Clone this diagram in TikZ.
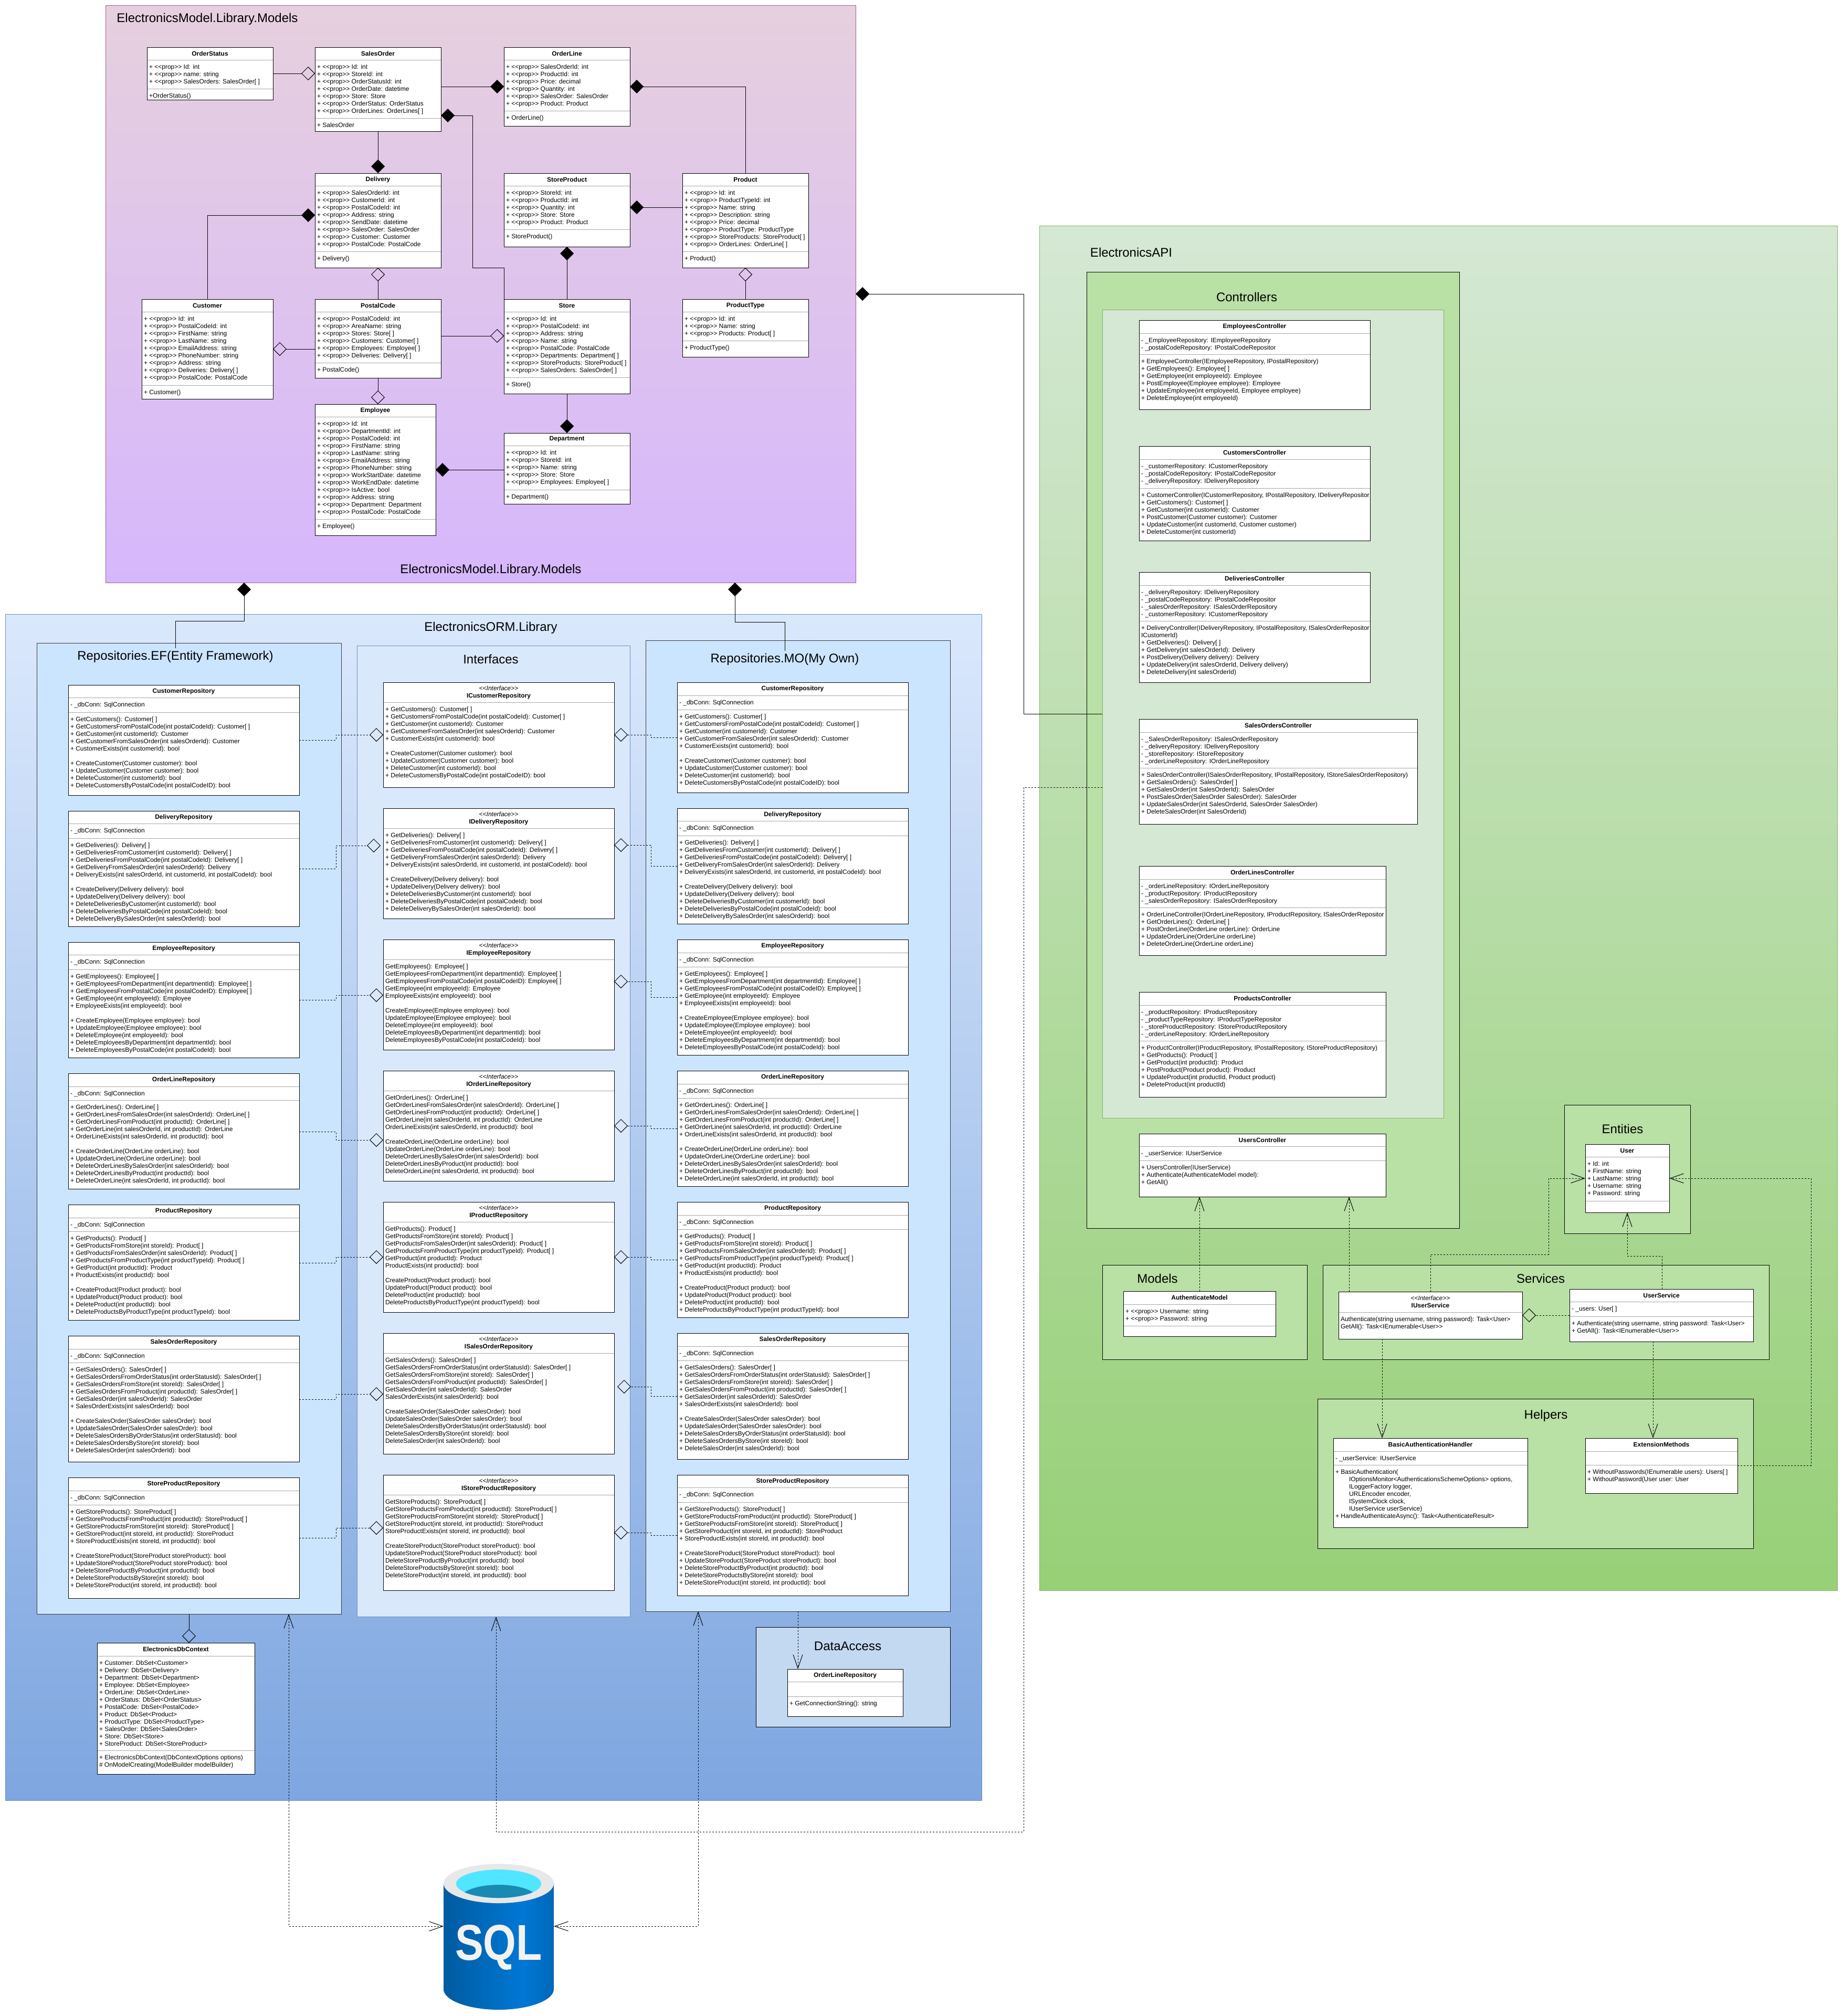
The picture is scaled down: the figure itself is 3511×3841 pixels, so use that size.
\documentclass[tikz,border=0pt]{standalone}
\usepackage{fontspec}
\usepackage{graphicx}
\usetikzlibrary{arrows.meta,calc}
\newfontfamily\umlfont{Liberation Sans}
\definecolor{modTop}{HTML}{E6D0DE}\definecolor{modBot}{HTML}{D6B7FC}\definecolor{modLine}{HTML}{996185}
\definecolor{ormTop}{HTML}{DAE8FC}\definecolor{ormBot}{HTML}{7EA6E0}\definecolor{ormLine}{HTML}{6C8EBF}
\definecolor{apiTop}{HTML}{D5E8D4}\definecolor{apiBot}{HTML}{97D077}\definecolor{apiLine}{HTML}{82B366}
\definecolor{repoFill}{HTML}{CCE5FF}\definecolor{repoLine}{HTML}{36393D}
\definecolor{daFill}{HTML}{C3D9F1}\definecolor{grpFill}{HTML}{B9E0A5}
\definecolor{sepGray}{HTML}{A6A6A6}
\definecolor{sqlA}{HTML}{005BA1}\definecolor{sqlB}{HTML}{0078D4}\definecolor{sqlC}{HTML}{0068BA}
\definecolor{sqlRing}{HTML}{E8E8E8}\definecolor{sqlIn}{HTML}{50E6FF}\definecolor{sqlDark}{HTML}{198AB3}\definecolor{sqlTxt}{HTML}{F2F2F2}
\pgfdeclarehorizontalshading{sqlbody}{100bp}{color(0bp)=(sqlA); color(25bp)=(sqlA); color(61bp)=(sqlB); color(75bp)=(sqlC); color(100bp)=(sqlC)}
\tikzset{
  every node/.style={font=\umlfont\fontsize{12}{14}\selectfont,inner sep=0pt,outer sep=0pt},
  clsbox/.style={draw=black,fill=white,line width=1pt,rectangle},
  sepline/.style={draw=sepGray,line width=1pt},
  clstitle/.style={font=\umlfont\bfseries\fontsize{12}{14}\selectfont,align=center},
  clstext/.style={align=left,anchor=north west},
  cont/.style={rectangle,anchor=north west,line width=1pt},
  gmod/.style={cont,draw=modLine,top color=modTop,bottom color=modBot},
  gorm/.style={cont,draw=ormLine,top color=ormTop,bottom color=ormBot},
  gapi/.style={cont,draw=apiLine,top color=apiTop,bottom color=apiBot},
  grepo/.style={cont,draw=repoLine,fill=repoFill},
  gint/.style={cont,draw=ormLine,fill=ormTop},
  gda/.style={cont,draw=black,fill=daFill},
  ggrp/.style={cont,draw=black,fill=grpFill},
  gin/.style={cont,draw=apiLine,fill=apiTop},
  conttitle/.style={font=\umlfont\fontsize{24}{28}\selectfont},
  conn/.style={draw=black,line width=1pt},
  comp/.style={conn,-{Turned Square[length=26pt,width=26pt]}},
  aggr/.style={conn,-{Turned Square[open,length=26pt,width=26pt]}},
  dashln/.style={conn,dash pattern=on 3pt off 3pt},
  daggr/.style={dashln,-{Turned Square[open,length=26pt,width=26pt]}},
  dep/.style={dashln,-{Straight Barb[length=26pt,width=18pt]}},
  depboth/.style={dashln,{Straight Barb[length=26pt,width=18pt]}-{Straight Barb[length=26pt,width=18pt]}},
}
\newcommand{\cont}[6]{% style,name,x1,y1,x2,y2
  \pgfmathsetmacro\kW{#5-#3}\pgfmathsetmacro\kH{#6-#4}
  \node[#1,minimum width=\kW pt,minimum height=\kH pt] (#2) at (#3,#4) {};}
\newcommand{\cls}[7]{\def\cN{#1}\def\cA{#2}\def\cB{#3}\def\cC{#4}\def\cD{#5}\def\cE{#6}\def\cF{#7}\clsb}
\newcommand{\clsb}[3]{%
  \pgfmathsetmacro\kW{\cC-\cA}\pgfmathsetmacro\kH{\cD-\cB}
  \node[clsbox,anchor=north west,minimum width=\kW pt,minimum height=\kH pt] (\cN) at (\cA,\cB) {};
  \node[clstitle] (\cN-title) at ({(\cA+\cC)/2},{(\cB+\cE)/2}) {#1};
  \draw[sepline] (\cA+0.5,\cE) -- (\cC-0.5,\cE);
  \if\relax\detokenize{#2}\relax\else
    \node[clstext] (\cN-attrs) at (\cA+4,\cE+8.6) {#2};
  \fi
  \ifdim\cF pt=\cE pt\else\draw[sepline] (\cA+0.5,\cF) -- (\cC-0.5,\cF);\fi
  \if\relax\detokenize{#3}\relax\else
    \node[clstext] (\cN-meths) at (\cA+4,\cF+8.6) {#3};
  \fi}
\newcommand{\plusmark}{+ }
\newcommand{\dbconn}{- \_dbConn: SqlConnection}
\newcommand{\iface}[1]{{\mdseries\itshape <<Interface>>}\\#1}
\newcommand{\mCust}{\plusmark GetCustomers(): Customer[ ]\\\plusmark GetCustomersFromPostalCode(int postalCodeId): Customer[ ]\\\plusmark GetCustomer(int customerId): Customer\\\plusmark GetCustomerFromSalesOrder(int salesOrderId): Customer\\\plusmark CustomerExists(int customerId): bool\\~\\\plusmark CreateCustomer(Customer customer): bool\\\plusmark UpdateCustomer(Customer customer): bool\\\plusmark DeleteCustomer(int customerId): bool\\\plusmark DeleteCustomersByPostalCode(int postalCodeID): bool}
\newcommand{\mDeli}{\plusmark GetDeliveries(): Delivery[ ]\\\plusmark GetDeliveriesFromCustomer(int customerId): Delivery[ ]\\\plusmark GetDeliveriesFromPostalCode(int postalCodeId): Delivery[ ]\\\plusmark GetDeliveryFromSalesOrder(int salesOrderId): Delivery\\\plusmark DeliveryExists(int salesOrderId, int customerId, int postalCodeId): bool\\~\\\plusmark CreateDelivery(Delivery delivery): bool\\\plusmark UpdateDelivery(Delivery delivery): bool\\\plusmark DeleteDeliveriesByCustomer(int customerId): bool\\\plusmark DeleteDeliveriesByPostalCode(int postalCodeId): bool\\\plusmark DeleteDeliveryBySalesOrder(int salesOrderId): bool}
\newcommand{\mEmpl}{\plusmark GetEmployees(): Employee[ ]\\\plusmark GetEmployeesFromDepartment(int departmentId): Employee[ ]\\\plusmark GetEmployeesFromPostalCode(int postalCodeID): Employee[ ]\\\plusmark GetEmployee(int employeeId): Employee\\\plusmark EmployeeExists(int employeeId): bool\\~\\\plusmark CreateEmployee(Employee employee): bool\\\plusmark UpdateEmployee(Employee employee): bool\\\plusmark DeleteEmployee(int employeeId): bool\\\plusmark DeleteEmployeesByDepartment(int departmentId): bool\\\plusmark DeleteEmployeesByPostalCode(int postalCodeId): bool}
\newcommand{\mOrdl}{\plusmark GetOrderLines(): OrderLine[ ]\\\plusmark GetOrderLinesFromSalesOrder(int salesOrderId): OrderLine[ ]\\\plusmark GetOrderLinesFromProduct(int productId): OrderLine[ ]\\\plusmark GetOrderLine(int salesOrderId, int productId): OrderLine\\\plusmark OrderLineExists(int salesOrderId, int productId): bool\\~\\\plusmark CreateOrderLine(OrderLine orderLine): bool\\\plusmark UpdateOrderLine(OrderLine orderLine): bool\\\plusmark DeleteOrderLinesBySalesOrder(int salesOrderId): bool\\\plusmark DeleteOrderLinesByProduct(int productId): bool\\\plusmark DeleteOrderLine(int salesOrderId, int productId): bool}
\newcommand{\mProd}{\plusmark GetProducts(): Product[ ]\\\plusmark GetProductsFromStore(int storeId): Product[ ]\\\plusmark GetProductsFromSalesOrder(int salesOrderId): Product[ ]\\\plusmark GetProductsFromProductType(int productTypeId): Product[ ]\\\plusmark GetProduct(int productId): Product\\\plusmark ProductExists(int productId): bool\\~\\\plusmark CreateProduct(Product product): bool\\\plusmark UpdateProduct(Product product): bool\\\plusmark DeleteProduct(int productId): bool\\\plusmark DeleteProductsByProductType(int productTypeId): bool}
\newcommand{\mSale}{\plusmark GetSalesOrders(): SalesOrder[ ]\\\plusmark GetSalesOrdersFromOrderStatus(int orderStatusId): SalesOrder[ ]\\\plusmark GetSalesOrdersFromStore(int storeId): SalesOrder[ ]\\\plusmark GetSalesOrdersFromProduct(int productId): SalesOrder[ ]\\\plusmark GetSalesOrder(int salesOrderId): SalesOrder\\\plusmark SalesOrderExists(int salesOrderId): bool\\~\\\plusmark CreateSalesOrder(SalesOrder salesOrder): bool\\\plusmark UpdateSalesOrder(SalesOrder salesOrder): bool\\\plusmark DeleteSalesOrdersByOrderStatus(int orderStatusId): bool\\\plusmark DeleteSalesOrdersByStore(int storeId): bool\\\plusmark DeleteSalesOrder(int salesOrderId): bool}
\newcommand{\mStpr}{\plusmark GetStoreProducts(): StoreProduct[ ]\\\plusmark GetStoreProductsFromProduct(int productId): StoreProduct[ ]\\\plusmark GetStoreProductsFromStore(int storeId): StoreProduct[ ]\\\plusmark GetStoreProduct(int storeId, int productId): StoreProduct\\\plusmark StoreProductExists(int storeId, int productId): bool\\~\\\plusmark CreateStoreProduct(StoreProduct storeProduct): bool\\\plusmark UpdateStoreProduct(StoreProduct storeProduct): bool\\\plusmark DeleteStoreProductByProduct(int productId): bool\\\plusmark DeleteStoreProductsByStore(int storeId): bool\\\plusmark DeleteStoreProduct(int storeId, int productId): bool}
\begin{document}
\begin{tikzpicture}[x=1pt,y=-1pt]
\useasboundingbox (0,0) rectangle (3511,3841);
% containers
\cont{gmod}{gModels}{201}{10}{1630}{1110}
\cont{gorm}{gOrm}{10}{1170}{1870}{3430}
\cont{gapi}{gApi}{1980}{430}{3500}{3030}
\cont{grepo}{gEf}{70}{1225}{650}{3075}
\cont{gint}{gIface}{680}{1230}{1200}{3080}
\cont{grepo}{gMo}{1230}{1220}{1810}{3070}
\cont{gda}{gData}{1440}{3100}{1810}{3290}
\cont{ggrp}{gCtrl}{2070}{518}{2780}{2340}
\cont{gin}{gCtrlIn}{2100}{590}{2750}{2130}
\cont{ggrp}{gEnt}{2980}{2105}{3220}{2350}
\cont{ggrp}{gApiMod}{2100}{2410}{2490}{2590}
\cont{ggrp}{gServ}{2520}{2410}{3370}{2590}
\cont{ggrp}{gHelp}{2510}{2665}{3340}{2950}
% container titles
\node[conttitle] (tModelsA) at (395,36) {ElectronicsModel.Library.Models};
\node[conttitle] (tModelsB) at (935,1086) {ElectronicsModel.Library.Models};
\node[conttitle] (tOrm) at (935,1196) {ElectronicsORM.Library};
\node[conttitle] (tEf) at (334,1251) {Repositories.EF(Entity Framework)};
\node[conttitle] (tIface) at (935,1256) {Interfaces};
\node[conttitle] (tMo) at (1495,1256) {Repositories.MO(My Own)};
\node[conttitle] (tData) at (1615,3136) {DataAccess};
\node[conttitle] (tApi) at (2155,481) {ElectronicsAPI};
\node[conttitle] (tCtrl) at (2375,566) {Controllers};
\node[conttitle] (tEnt) at (3091,2151) {Entities};
\node[conttitle] (tApiMod) at (2205,2436) {Models};
\node[conttitle] (tServ) at (2935,2436) {Services};
\node[conttitle] (tHelp) at (2945,2697) {Helpers};
% Model classes
\cls{OrderStatus}{280}{90}{520}{190}{114}{169}{OrderStatus}{+ <<prop>> Id: int\\+ <<prop>> name: string\\+ <<prop>> SalesOrders: SalesOrder[ ]}{+OrderStatus()}
\cls{SalesOrder}{600}{90}{840}{250}{114}{225}{SalesOrder}{+ <<prop>> Id: int\\+ <<prop>> StoreId: int\\+ <<prop>> OrderStatusId: int\\+ <<prop>> OrderDate: datetime\\+ <<prop>> Store: Store\\+ <<prop>> OrderStatus: OrderStatus\\+ <<prop>> OrderLines: OrderLines[ ]}{+ SalesOrder}
\cls{OrderLine}{960}{90}{1200}{240}{114}{211}{OrderLine}{+ <<prop>> SalesOrderId: int\\+ <<prop>> ProductId: int\\+ <<prop>> Price: decimal\\+ <<prop>> Quantity: int\\+ <<prop>> SalesOrder: SalesOrder\\+ <<prop>> Product: Product}{+ OrderLine()}
\cls{Delivery}{600}{330}{840}{510}{354}{479}{Delivery}{+ <<prop>> SalesOrderId: int\\+ <<prop>> CustomerId: int\\+ <<prop>> PostalCodeId: int\\+ <<prop>> Address: string\\+ <<prop>> SendDate: datetime\\+ <<prop>> SalesOrder: SalesOrder\\+ <<prop>> Customer: Customer\\+ <<prop>> PostalCode: PostalCode}{+ Delivery()}
\cls{StoreProduct}{960}{330}{1200}{470}{354}{437}{StoreProduct}{+ <<prop>> StoreId: int\\+ <<prop>> ProductId: int\\+ <<prop>> Quantity: int\\+ <<prop>> Store: Store\\+ <<prop>> Product: Product}{+ StoreProduct()}
\cls{Product}{1300}{330}{1540}{510}{354}{479}{Product}{+ <<prop>> Id: int\\+ <<prop>> ProductTypeId: int\\+ <<prop>> Name: string\\+ <<prop>> Description: string\\+ <<prop>> Price: decimal\\+ <<prop>> ProductType: ProductType\\+ <<prop>> StoreProducts: StoreProduct[ ]\\+ <<prop>> OrderLines: OrderLine[ ]}{+ Product()}
\cls{Customer}{270}{570}{520}{760}{594}{734}{Customer}{+ <<prop>> Id: int\\+ <<prop>> PostalCodeId: int\\+ <<prop>> FirstName: string\\+ <<prop>> LastName: string\\+ <<prop>> EmailAddress: string\\+ <<prop>> PhoneNumber: string\\+ <<prop>> Address: string\\+ <<prop>> Deliveries: Delivery[ ]\\+ <<prop>> PostalCode: PostalCode}{+ Customer()}
\cls{PostalCode}{600}{570}{840}{720}{594}{691}{PostalCode}{+ <<prop>> PostalCodeId: int\\+ <<prop>> AreaName: string\\+ <<prop>> Stores: Store[ ]\\+ <<prop>> Customers: Customer[ ]\\+ <<prop>> Employees: Employee[ ]\\+ <<prop>> Deliveries: Delivery[ ]}{+ PostalCode()}
\cls{Store}{960}{570}{1200}{750}{594}{719}{Store}{+ <<prop>> Id: int\\+ <<prop>> PostalCodeId: int\\+ <<prop>> Address: string\\+ <<prop>> Name: string\\+ <<prop>> PostalCode: PostalCode\\+ <<prop>> Departments: Department[ ]\\+ <<prop>> StoreProducts: StoreProduct[ ]\\+ <<prop>> SalesOrders: SalesOrder[ ]}{+ Store()}
\cls{ProductType}{1300}{570}{1540}{680}{594}{649}{ProductType}{+ <<prop>> Id: int\\+ <<prop>> Name: string\\+ <<prop>> Products: Product[ ]}{+ ProductType()}
\cls{Employee}{600}{770}{830}{1020}{794}{989}{Employee}{+ <<prop>> Id: int\\+ <<prop>> DepartmentId: int\\+ <<prop>> PostalCodeId: int\\+ <<prop>> FirstName: string\\+ <<prop>> LastName: string\\+ <<prop>> EmailAddress: string\\+ <<prop>> PhoneNumber: string\\+ <<prop>> WorkStartDate: datetime\\+ <<prop>> WorkEndDate: datetime\\+ <<prop>> IsActive: bool\\+ <<prop>> Address: string\\+ <<prop>> Department: Department\\+ <<prop>> PostalCode: PostalCode}{+ Employee()}
\cls{Department}{960}{825}{1200}{960}{849}{933}{Department}{+ <<prop>> Id: int\\+ <<prop>> StoreId: int\\+ <<prop>> Name: string\\+ <<prop>> Store: Store\\+ <<prop>> Employees: Employee[ ]}{+ Department()}
% EF repositories
\cls{efCust}{130}{1305}{570}{1515}{1329}{1357}{CustomerRepository}{\dbconn}{\mCust}
\cls{efDeli}{130}{1545}{570}{1765}{1569}{1597}{DeliveryRepository}{\dbconn}{\mDeli}
\cls{efEmpl}{130}{1795}{570}{2015}{1819}{1847}{EmployeeRepository}{\dbconn}{\mEmpl}
\cls{efOrdl}{130}{2045}{570}{2265}{2070}{2096}{OrderLineRepository}{\dbconn}{\mOrdl}
\cls{efProd}{130}{2295}{570}{2515}{2320}{2346}{ProductRepository}{\dbconn}{\mProd}
\cls{efSale}{130}{2545}{570}{2785}{2570}{2596}{SalesOrderRepository}{\dbconn}{\mSale}
\cls{efStpr}{130}{2815}{570}{3045}{2840}{2867}{StoreProductRepository}{\dbconn}{\mStpr}
% Interfaces
\cls{iCust}{730}{1300}{1170}{1500}{1338}{1338}{\iface{ICustomerRepository}}{}{\mCust}
\cls{iDeli}{730}{1540}{1170}{1750}{1578}{1578}{\iface{IDeliveryRepository}}{}{\mDeli}
\renewcommand{\plusmark}{}
\cls{iEmpl}{730}{1790}{1170}{2000}{1828}{1828}{\iface{IEmployeeRepository}}{}{\mEmpl}
\cls{iOrdl}{730}{2040}{1170}{2250}{2078}{2078}{\iface{IOrderLineRepository}}{}{\mOrdl}
\cls{iProd}{730}{2290}{1170}{2500}{2328}{2328}{\iface{IProductRepository}}{}{\mProd}
\cls{iSale}{730}{2540}{1170}{2770}{2578}{2578}{\iface{ISalesOrderRepository}}{}{\mSale}
\cls{iStpr}{730}{2810}{1170}{3030}{2848}{2848}{\iface{IStoreProductRepository}}{}{\mStpr}
\renewcommand{\plusmark}{+ }
% MO repositories
\cls{moCust}{1290}{1300}{1730}{1510}{1325}{1352}{CustomerRepository}{\dbconn}{\mCust}
\cls{moDeli}{1290}{1540}{1730}{1760}{1564}{1592}{DeliveryRepository}{\dbconn}{\mDeli}
\cls{moEmpl}{1290}{1790}{1730}{2010}{1815}{1842}{EmployeeRepository}{\dbconn}{\mEmpl}
\cls{moOrdl}{1290}{2040}{1730}{2260}{2065}{2092}{OrderLineRepository}{\dbconn}{\mOrdl}
\cls{moProd}{1290}{2290}{1730}{2510}{2315}{2342}{ProductRepository}{\dbconn}{\mProd}
\cls{moSale}{1290}{2540}{1730}{2780}{2565}{2592}{SalesOrderRepository}{\dbconn}{\mSale}
\cls{moStpr}{1290}{2810}{1730}{3040}{2834}{2862}{StoreProductRepository}{\dbconn}{\mStpr}
% Db context and data access
\cls{dbCtx}{185}{3130}{485}{3380}{3155}{3335}{ElectronicsDbContext}{+ Customer: DbSet<Customer>\\+ Delivery: DbSet<Delivery>\\+ Department: DbSet<Department>\\+ Employee: DbSet<Employee>\\+ OrderLine: DbSet<OrderLine>\\+ OrderStatus: DbSet<OrderStatus>\\+ PostalCode: DbSet<PostalCode>\\+ Product: DbSet<Product>\\+ ProductType: DbSet<ProductType>\\+ SalesOrder: DbSet<SalesOrder>\\+ Store: DbSet<Store>\\+ StoreProduct: DbSet<StoreProduct>}{+ ElectronicsDbContext(DbContextOptions options)\\\# OnModelCreating(ModelBuilder modelBuilder)}
\cls{daRepo}{1500}{3180}{1720}{3270}{3204}{3232}{OrderLineRepository}{}{+ GetConnectionString(): string}
% Controllers
\cls{cEmpl}{2170}{610}{2610}{780}{635}{675}{EmployeesController}{- \_EmployeeRepository: IEmployeeRepository\\- \_postalCodeRepository: IPostalCodeRepositor}{+ EmployeeController(IEmployeeRepository, IPostalRepository)\\+ GetEmployees(): Employee[ ]\\+ GetEmployee(int employeeId): Employee\\+ PostEmployee(Employee employee): Employee\\+ UpdateEmployee(int employeeId, Employee employee)\\+ DeleteEmployee(int employeeId)}
\cls{cCust}{2170}{850}{2610}{1030}{875}{930}{CustomersController}{- \_customerRepository: ICustomerRepository\\- \_postalCodeRepository: IPostalCodeRepositor\\- \_deliveryRepository: IDeliveryRepository}{+ CustomerController(ICustomerRepository, IPostalRepository, IDeliveryRepositor\\+ GetCustomers(): Customer[ ]\\+ GetCustomer(int customerId): Customer\\+ PostCustomer(Customer customer): Customer\\+ UpdateCustomer(int customerId, Customer customer)\\+ DeleteCustomer(int customerId)}
\cls{cDeli}{2170}{1090}{2610}{1300}{1115}{1183}{DeliveriesController}{- \_deliveryRepository: IDeliveryRepository\\- \_postalCodeRepository: IPostalCodeRepositor\\- \_salesOrderRepository: ISalesOrderRepository\\- \_customerRepository: ICustomerRepository}{+ DeliveryController(IDeliveryRepository, IPostalRepository, ISalesOrderRepositor\\ICustomerId)\\+ GetDeliveries(): Delivery[ ]\\+ GetDelivery(int salesOrderId): Delivery\\+ PostDelivery(Delivery delivery): Delivery\\+ UpdateDelivery(int salesOrderId, Delivery delivery)\\+ DeleteDelivery(int salesOrderId)}
\cls{cSale}{2170}{1370}{2700}{1570}{1395}{1463}{SalesOrdersController}{- \_SalesOrderRepository: ISalesOrderRepository\\- \_deliveryRepository: IDeliveryRepository\\- \_storeRepository: IStoreRepository\\- \_orderLineRepository: IOrderLineRepository}{+ SalesOrderController(ISalesOrderRepository, IPostalRepository, IStoreSalesOrderRepository)\\+ GetSalesOrders(): SalesOrder[ ]\\+ GetSalesOrder(int SalesOrderId): SalesOrder\\+ PostSalesOrder(SalesOrder SalesOrder): SalesOrder\\+ UpdateSalesOrder(int SalesOrderId, SalesOrder SalesOrder)\\+ DeleteSalesOrder(int SalesOrderId)}
\cls{cOrdl}{2170}{1650}{2640}{1820}{1675}{1729}{OrderLinesController}{- \_orderLineRepository: IOrderLineRepository\\- \_productRepository: IProductRepository\\- \_salesOrderRepository: ISalesOrderRepository}{+ OrderLineController(IOrderLineRepository, IProductRepository, ISalesOrderRepositor\\+ GetOrderLines(): OrderLine[ ]\\+ PostOrderLine(OrderLine orderLine): OrderLine\\+ UpdateOrderLine(OrderLine orderLine)\\+ DeleteOrderLine(OrderLine orderLine)}
\cls{cProd}{2170}{1890}{2640}{2090}{1915}{1983}{ProductsController}{- \_productRepository: IProductRepository\\- \_productTypeRepository: IProductTypeRepositor\\- \_storeProductRepository: IStoreProductRepository\\- \_orderLineRepository: IOrderLineRepository}{+ ProductController(IProductRepository, IPostalRepository, IStoreProductRepository)\\+ GetProducts(): Product[ ]\\+ GetProduct(int productId): Product\\+ PostProduct(Product product): Product\\+ UpdateProduct(int productId, Product product)\\+ DeleteProduct(int productId)}
\cls{cUser}{2170}{2160}{2640}{2280}{2184}{2211}{UsersController}{- \_userService: IUserService}{+ UsersController(IUserService)\\+ Authenticate(AuthenticateModel model):\\+ GetAll()}
\cls{aModel}{2140}{2460}{2430}{2546}{2485}{2526}{AuthenticateModel}{+ <<prop>> Username: string\\+ <<prop>> Password: string}{}
\cls{iUserS}{2550}{2461}{2900}{2551}{2500}{2500}{\iface{IUserService}}{}{Authenticate(string username, string password): Task<User>\\GetAll(): Task<IEnumerable<User>>}
\cls{userS}{2990}{2456}{3340}{2556}{2480}{2508}{UserService}{- \_users: User[ ]}{+ Authenticate(string username, string password: Task<User>\\+ GetAll(): Task<IEnumerable<User>>}
\cls{basicH}{2540}{2740}{2910}{2910}{2765}{2791}{BasicAuthenticationHandler}{- \_userService: IUserService}{+ BasicAuthentication(\\\hspace*{26pt}IOptionsMonitor<AuthenticationsSchemeOptions> options,\\\hspace*{26pt}ILoggerFactory logger,\\\hspace*{26pt}URLEncoder encoder,\\\hspace*{26pt}ISystemClock clock,\\\hspace*{26pt}IUserService userService)\\+ HandleAuthenticateAsync(): Task<AuthenticateResult>}
\cls{extM}{3020}{2740}{3310}{2845}{2765}{2791}{ExtensionMethods}{}{+ WithoutPasswords(IEnumerable users): Users[ ]\\+ WithoutPassword(User user: User}
\cls{userE}{3020}{2180}{3180}{2310}{2204}{2288}{User}{+ Id: int\\+ FirstName: string\\+ LastName: string\\+ Username: string\\+ Password: string}{}
% SQL cylinder
\node[minimum width=210pt,minimum height=278pt,anchor=north west] (sql) at (845,3551) {};
\shade[shading=sqlbody] (845,3588) -- (845,3790) .. controls (845,3811) and (892,3829) .. (950,3829) .. controls (1008,3829) and (1055,3811) .. (1055,3790) -- (1055,3588) -- cycle;
\fill[sqlRing] (950,3588.5) ellipse[x radius=105,y radius=37.5];
\fill[sqlIn] (950,3589) ellipse[x radius=81,y radius=27];
\begin{scope}
\clip (950,3589) ellipse[x radius=81,y radius=27];
\fill[sqlDark] (950,3618) ellipse[x radius=74,y radius=27];
\end{scope}
\node[font=\umlfont\bfseries\fontsize{96}{96}\selectfont,text=sqlTxt] (sqlText) at (950,3710) {\scalebox{0.84}[1]{SQL}};
% Connectors: models
\draw[aggr] (OrderStatus.east |- 0,140) -- (SalesOrder.west |- 0,140);
\draw[comp] (SalesOrder.east |- 0,165) -- (OrderLine.west |- 0,165);
\draw[comp] (Product.north) -- (Product.north |- 0,165) -- (OrderLine.east |- 0,165);
\draw[comp] (960,0 |- Store.north) -- (960,510) -- (900,510) -- (900,220) -- (SalesOrder.east |- 0,220);
\draw[comp] (SalesOrder.south) -- (Delivery.north);
\draw[comp] (Customer.north) -- (Customer.north |- 0,410) -- (Delivery.west |- 0,410);
\draw[aggr] (PostalCode.north) -- (Delivery.south);
\draw[aggr] (PostalCode.west |- 0,665) -- (Customer.east |- 0,665);
\draw[aggr] (PostalCode.east |- 0,640) -- (Store.west |- 0,640);
\draw[comp] (Store.north) -- (StoreProduct.south);
\draw[comp] (Product.west |- 0,395) -- (StoreProduct.east |- 0,395);
\draw[aggr] (ProductType.north) -- (Product.south);
\draw[aggr] (PostalCode.south) -- (720,0 |- Employee.north);
\draw[comp] (Store.south) -- (Department.north);
\draw[comp] (Department.west |- 0,895) -- (Employee.east |- 0,895);
% Connectors: packages to models
\coordinate (efEnd) at (334,1235);
\coordinate (moEnd) at (1495,1240);
\draw[comp] (efEnd) -- (334,1183) -- (465,1183) -- (465,0 |- gModels.south);
\draw[comp] (moEnd) -- (1495,1185) -- (1400,1185) -- (1400,0 |- gModels.south);
\draw[comp] (gCtrlIn.west |- 0,1360) -- (1950,1360) -- (1950,560) -- (gModels.east |- 0,560);
% Repositories to interfaces
\draw[daggr] (efCust.east |- 0,1410) -- (640,1410) -- (640,1400) -- (iCust.west |- 0,1400);
\draw[daggr] (efDeli.east |- 0,1655) -- (640,1655) -- (640,1611) -- (725,1611);
\draw[daggr] (efEmpl.east |- 0,1905) -- (640,1905) -- (640,1896) -- (iEmpl.west |- 0,1896);
\draw[daggr] (efOrdl.east |- 0,2156) -- (640,2156) -- (640,2172) -- (iOrdl.west |- 0,2172);
\draw[daggr] (efProd.east |- 0,2406) -- (640,2406) -- (640,2395) -- (iProd.west |- 0,2395);
\draw[daggr] (efSale.east |- 0,2666) -- (640,2666) -- (640,2656) -- (iSale.west |- 0,2656);
\draw[daggr] (efStpr.east |- 0,2930) -- (640,2930) -- (640,2911) -- (iStpr.west |- 0,2911);
\draw[daggr] (moCust.west |- 0,1405) -- (1240,1405) -- (1240,1400) -- (iCust.east |- 0,1400);
\draw[daggr] (moDeli.west |- 0,1650) -- (1240,1650) -- (1240,1610) -- (iDeli.east |- 0,1610);
\draw[daggr] (moEmpl.west |- 0,1900) -- (1240,1900) -- (1240,1870) -- (iEmpl.east |- 0,1870);
\draw[daggr] (moOrdl.west |- 0,2150) -- (1240,2150) -- (1240,2145) -- (iOrdl.east |- 0,2145);
\draw[daggr] (moProd.west |- 0,2400) -- (1240,2400) -- (1240,2395) -- (iProd.east |- 0,2395);
\draw[daggr] (moSale.west |- 0,2660) -- (1240,2660) -- (1240,2642) -- (1176,2642);
\draw[daggr] (moStpr.west |- 0,2925) -- (1240,2925) -- (1240,2920) -- (iStpr.east |- 0,2920);
\draw[aggr] (360,0 |- gEf.south) -- (360,0 |- dbCtx.north);
% Dependencies to SQL and interfaces
\draw[depboth] (550,0 |- gEf.south) -- (550,3670) -- (sql.west |- 0,3670);
\draw[depboth] (1330,0 |- gMo.south) -- (1330,3670) -- (sql.east |- 0,3670);
\draw[dep] (gCtrlIn.west |- 0,1500) -- (1950,1500) -- (1950,3490) -- (945,3490) -- (945,0 |- gIface.south);
\draw[dep] (1520,0 |- gMo.south) -- (1520,0 |- daRepo.north);
% API dependencies
\draw[dep] (2285,0 |- aModel.north) -- (2285,0 |- cUser.south);
\draw[dep] (2570,0 |- iUserS.north) -- (2570,0 |- cUser.south);
\draw[dep] (iUserS.north) -- (2725,2390) -- (2950,2390) -- (2950,2245) -- (userE.west |- 0,2245);
\draw[dep] (3166,0 |- userS.north) -- (3166,2393) -- (3100,2393) -- (userE.south);
\draw[dep] (2633,0 |- iUserS.south) -- (2633,0 |- basicH.north);
\draw[dep] (3149,0 |- userS.south) -- (3149,0 |- extM.north);
\draw[dep] (extM.east |- 0,2792) -- (3450,2792) -- (3450,2245) -- (userE.east |- 0,2245);
\draw[daggr] (userS.west |- 0,2506) -- (iUserS.east |- 0,2506);
\end{tikzpicture}
\end{document}
